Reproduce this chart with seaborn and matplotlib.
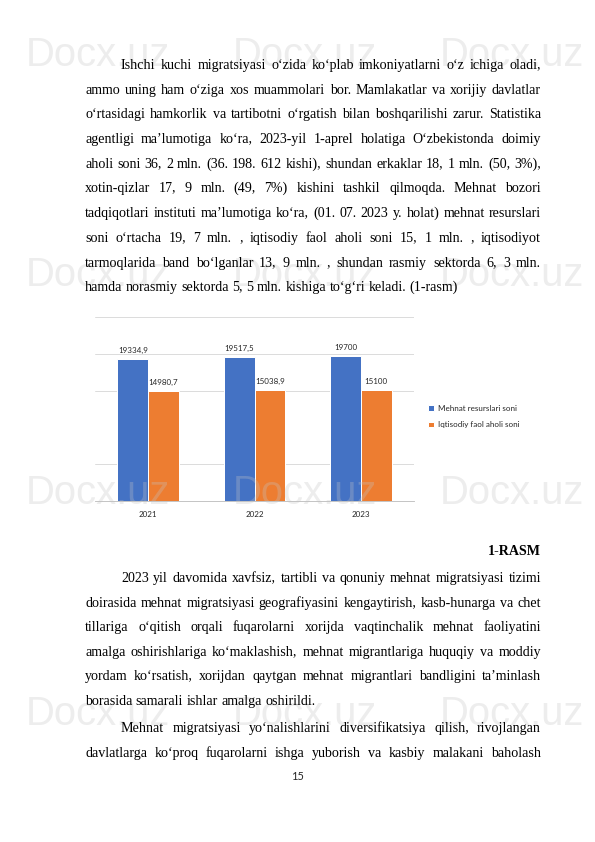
import math
import matplotlib
matplotlib.use("Agg")
import matplotlib.pyplot as plt
from matplotlib.font_manager import FontProperties
import seaborn as sns
import pandas as pd

# chart data (1-rasm)
years = ["2021", "2022", "2023"]
mehnat_resurslari = [19334.9, 19517.5, 19700]
iqtisodiy_faol = [14980.7, 15038.9, 15100]
series_names = ["Mehnat resurslari soni", "Iqtisodiy faol aholi soni"]
grid_levels = [5000, 15000, 20000, 25000]

# page text, one entry per printed line
para1 = [
    "Ishchi kuchi migratsiyasi o‘zida ko‘plab imkoniyatlarni o‘z ichiga oladi,",
    "ammo uning ham o‘ziga xos muammolari bor. Mamlakatlar va xorijiy davlatlar",
    "o‘rtasidagi hamkorlik va tartibotni o‘rgatish bilan boshqarilishi zarur. Statistika",
    "agentligi ma’lumotiga ko‘ra, 2023-yil 1-aprel holatiga O‘zbekistonda doimiy",
    "aholi soni 36, 2 mln. (36. 198. 612 kishi), shundan erkaklar 18, 1 mln. (50, 3%),",
    "xotin-qizlar 17, 9 mln. (49, 7%) kishini tashkil qilmoqda. Mehnat bozori",
    "tadqiqotlari instituti ma’lumotiga ko‘ra, (01. 07. 2023 y. holat) mehnat resurslari",
    "soni o‘rtacha 19, 7 mln. , iqtisodiy faol aholi soni 15, 1 mln. , iqtisodiyot",
    "tarmoqlarida band bo‘lganlar 13, 9 mln. , shundan rasmiy sektorda 6, 3 mln.",
    "hamda norasmiy sektorda 5, 5 mln. kishiga to‘g‘ri keladi. (1-rasm)",
]
para2 = [
    "2023 yil davomida xavfsiz, tartibli va qonuniy mehnat migratsiyasi tizimi",
    "doirasida mehnat migratsiyasi geografiyasini kengaytirish, kasb-hunarga va chet",
    "tillariga o‘qitish orqali fuqarolarni xorijda vaqtinchalik mehnat faoliyatini",
    "amalga oshirishlariga ko‘maklashish, mehnat migrantlariga huquqiy va moddiy",
    "yordam ko‘rsatish, xorijdan qaytgan mehnat migrantlari bandligini ta’minlash",
    "borasida samarali ishlar amalga oshirildi.",
]
para3 = [
    "Mehnat migratsiyasi yo‘nalishlarini diversifikatsiya qilish, rivojlangan",
    "davlatlarga ko‘proq fuqarolarni ishga yuborish va kasbiy malakani baholash",
]
caption = "1-RASM"
page_number = "15"
watermark = "Docx.uz"

BLUE = "#4472C4"
ORANGE = "#ED7D31"
SERIF = "Liberation Serif"
SANS = "Lato"
FS = 14
W, H = 595, 842

sns.set_theme(style="white")
plt.rcParams["font.family"] = ["DejaVu Sans"]

fig = plt.figure(figsize=(W / 72, H / 72), dpi=72)
fig.patch.set_facecolor("white")

# ---- chart ----
df = pd.DataFrame({
    "year": years * 2,
    "value": mehnat_resurslari + iqtisodiy_faol,
    "series": [series_names[0]] * 3 + [series_names[1]] * 3,
})

ax = fig.add_axes([95 / W, 1 - 501 / H, 319 / W, 184 / H])
ax.set_facecolor("none")
sns.barplot(data=df, x="year", y="value", hue="series", palette=[BLUE, ORANGE],
            width=0.577, saturation=1, errorbar=None, ax=ax, zorder=3)
for lvl in grid_levels:
    ax.axhline(lvl, color="#d9d9d9", lw=0.9, zorder=1)
ax.set_ylim(0, 25000)
ax.set_xlim(-0.5, 2.5)
ax.set_yticks([])
ax.set_xlabel("")
ax.set_ylabel("")
for s in ["left", "top", "right"]:
    ax.spines[s].set_visible(False)
ax.spines["bottom"].set_color("#bfbfbf")
ax.spines["bottom"].set_linewidth(0.9)
ax.set_xticks([-0.5, 0.5, 1.5, 2.5], minor=True)
ax.tick_params(axis="x", which="major", length=0, pad=10, labelsize=8, labelcolor="#262626")
ax.tick_params(axis="x", which="minor", length=4, width=0.9, color="#bfbfbf", direction="out")
for lab in ax.get_xticklabels():
    lab.set_family(SANS)

for cont in ax.containers:
    labels = [f"{b.get_height():g}".replace(".", ",") for b in cont]
    ax.bar_label(cont, labels=labels, padding=5, fontsize=8, family=SANS, color="#262626")

handles, labs = ax.get_legend_handles_labels()
ax.legend(handles=handles, labels=labs, loc="center left",
          bbox_to_anchor=(428 / W, 1 - 416.5 / H), bbox_transform=fig.transFigure,
          frameon=False, borderpad=0, borderaxespad=0, handlelength=0.7, handleheight=0.7,
          handletextpad=0.6, labelspacing=1.2, prop={"family": SANS, "size": 8})

# ---- page text ----
page = fig.add_axes([0, 0, 1, 1], zorder=5)
page.set_facecolor("none")
page.set_xlim(0, W)
page.set_ylim(H, 0)
page.axis("off")

renderer = fig.canvas.get_renderer()
serif_prop = FontProperties(family=SERIF, size=FS)
LEFT, RIGHT, INDENT = 85, 541, 121


def snapped_y(word, base):
    # Agg places each word's bitmap on whole pixels; pick y so that every
    # word of a line ends up with its baseline on the same pixel row
    _, h, d = renderer.get_text_width_height_descent(word, serif_prop, ismath=False)
    asc = h - d
    n = round(base) + math.trunc(h) - math.floor(asc)
    return n - d


def put_line(line, y, x0, justify):
    words = line.split(" ")
    texts = [page.text(0, snapped_y(w, y), w, fontproperties=serif_prop, va="baseline",
                       ha="left", color="black", zorder=5) for w in words]
    widths = [t.get_window_extent(renderer).width for t in texts]
    if justify and len(words) > 1:
        gap = (RIGHT - x0 - sum(widths)) / (len(words) - 1)
    else:
        gap = FS * 0.25
    x = x0
    for t, w in zip(texts, widths):
        t.set_x(x)
        x += w + gap


def put_paragraph(lines, y0, step, last_justified=False):
    for i, line in enumerate(lines):
        x0 = INDENT if i == 0 else LEFT
        last = i == len(lines) - 1
        put_line(line, y0 + i * step + 4, x0, justify=(not last) or last_justified)


put_paragraph(para1, 65, 24.7)
put_paragraph(para2, 578, 24.6)
put_paragraph(para3, 728, 24.6, last_justified=True)

page.text(RIGHT, 555, caption, fontsize=FS, family=SERIF, fontweight="bold",
          ha="right", va="baseline", color="black", zorder=5)
page.text(297, 777, page_number, fontsize=11, family=SANS, ha="center", va="center",
          color="#262626", zorder=5)

# faint watermark rows
for wy in [55, 275, 493, 714]:
    for wx in [26, 233, 440]:
        page.text(wx, wy, watermark, fontsize=40, family="Liberation Sans",
                  ha="left", va="center", color="#c4c4c4", alpha=0.3, zorder=2)

fig.savefig("out.png", dpi=72, facecolor="white")
